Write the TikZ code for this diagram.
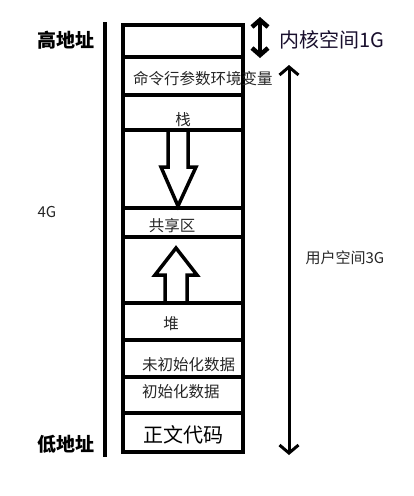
\documentclass[tikz,border=0pt]{standalone}
\usepackage{fontspec}
\setmainfont{Noto Sans CJK SC}
\usetikzlibrary{positioning,arrows.meta}

\begin{document}
\begin{tikzpicture}[x=1pt, y=-1pt,
seg/.style={rectangle, draw=black, line width=4pt, minimum width=120pt, inner sep=0pt, outer sep=0pt},
lbl/.style={font=\fontsize{15.5}{15.5}\selectfont, text=black!85, inner sep=0pt},
side/.style={font=\fontsize{15}{15}\selectfont, text=black!85, inner sep=0pt},
big/.style={font=\fontsize{20}{20}\selectfont, inner sep=0pt},
hollow/.style={draw=black, line width=3.5pt, line join=miter},
span/.style={line width=4.5pt},
barb/.tip={Straight Barb[length=7pt, width=16pt]},
longbarb/.tip={Straight Barb[length=8pt, width=19pt]}
]
\useasboundingbox (0,0) rectangle (414,496);
%Nodes
\node[seg, minimum height=32pt] (kern)  at (183,41)          {};
\node[seg, minimum height=38pt] (args)  [below=0pt of kern]  {};
\node[seg, minimum height=35pt] (stack) [below=0pt of args]  {};
\node[seg, minimum height=78pt] (gapa)  [below=0pt of stack] {};
\node[seg, minimum height=29pt] (shrd)  [below=0pt of gapa]  {};
\node[seg, minimum height=66pt] (gapb)  [below=0pt of shrd]  {};
\node[seg, minimum height=37pt] (heap)  [below=0pt of gapb]  {};
\node[seg, minimum height=37pt] (bss)   [below=0pt of heap]  {};
\node[seg, minimum height=36pt] (data)  [below=0pt of bss]   {};
\node[seg, minimum height=39pt] (code)  [below=0pt of data]  {};
%Labels
\node[lbl, anchor=west] (argst)  at ([xshift=10pt, yshift=-3pt]args.west)  {命令行参数环境变量};
\node[lbl]              (stackt) at ([yshift=-7pt]stack.center)            {栈};
\node[lbl]              (shrdt)  at ([xshift=-11pt, yshift=-3pt]shrd.center) {共享区};
\node[lbl]              (heapt)  at ([xshift=-12pt, yshift=-2pt]heap.center) {堆};
\node[lbl, anchor=west] (bsst)   at ([xshift=19pt, yshift=-6pt]bss.west)   {未初始化数据};
\node[lbl, anchor=west] (datat)  at ([xshift=19pt, yshift=3pt]data.west)   {初始化数据};
\node[big, anchor=west] (codet)  at ([xshift=20pt, yshift=-2pt]code.west)  {正文代码};
\node[big, font=\fontsize{19}{19}\selectfont\bfseries] (hi) at (66,40)  {高地址};
\node[big, font=\fontsize{19}{19}\selectfont\bfseries] (lo) at (66,444) {低地址};
\node[side] (tot)   at (47,212)  {4G};
\node[big, text={rgb,255:red,25;green,15;blue,45}] (kname) at (332,40) {内核空间1G};
\node[side] (uname) at (345,258) {用户空间3G};
%Lines
\coordinate (ltop) at (105,22);
\coordinate (lbot) at (105,457);
\draw[span] (ltop) -- (lbot);
\coordinate (ktop) at (260,17);
\coordinate (kbot) at (260,58);
\draw[span, barb-barb] (ktop) -- (kbot);
\coordinate (utop) at (289,65);
\coordinate (ubot) at (289,455);
\draw[line width=3pt, longbarb-longbarb] (utop) -- (ubot);
%Block arrows
\coordinate (dn) at ([xshift=-5pt]stack.south);
\draw[hollow] (dn) ++(-10,0) -- ++(0,37) -- ++(-7,0) -- ++(17,39) -- ++(18,-39) -- ++(-8,0) -- ++(0,-37);
\coordinate (up) at ([xshift=-7pt]heap.north);
\draw[hollow] (up) ++(-11,0) -- ++(0,-28) -- ++(-10,0) -- ++(21,-27) -- ++(21,27) -- ++(-10,0) -- ++(0,28);
\end{tikzpicture}
\end{document}
